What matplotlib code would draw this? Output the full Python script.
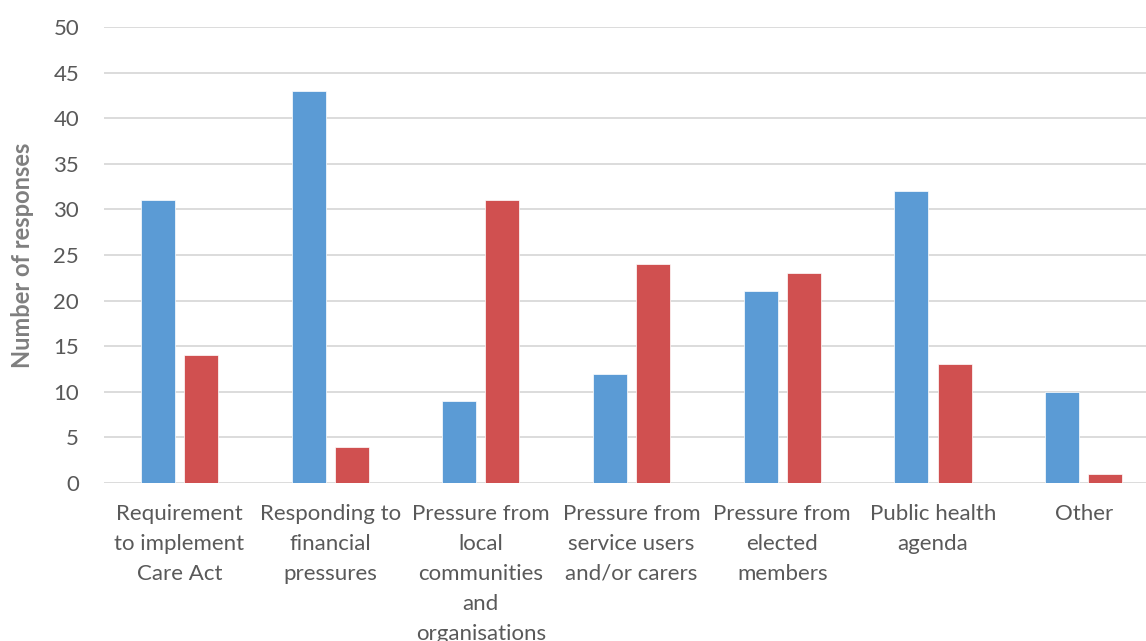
import matplotlib.pyplot as plt
import numpy as np

# ── Survey data ────────────────────────────────────────────────────────
categories = [
    "Requirement\nto implement\nCare Act",
    "Responding to\nfinancial\npressures",
    "Pressure from\nlocal\ncommunities\nand\norganisations",
    "Pressure from\nservice users\nand/or carers",
    "Pressure from\nelected\nmembers",
    "Public health\nagenda",
    "Other",
]
series_blue = [31, 43, 9, 12, 21, 32, 10]
series_red = [14, 4, 31, 24, 23, 13, 1]

blue = "#5B9BD5"
red = "#D05050"
text_grey = "#595959"

plt.rcParams["font.family"] = ["Lato", "DejaVu Sans"]

fig = plt.figure(figsize=(11.46, 6.41), dpi=100)
ax = fig.add_axes([0.0908, 0.2465, 0.9206, 0.7114])

x = np.arange(len(categories))
width = 0.226
offset = 0.143

ax.bar(x - offset, series_blue, width, color=blue, edgecolor="white",
       linewidth=0.5, zorder=3)
ax.bar(x + offset, series_red, width, color=red, edgecolor="white",
       linewidth=0.5, zorder=3)

ax.set_xlim(-0.5, len(categories) - 0.5)
ax.set_ylim(0, 50)
ax.set_yticks(range(0, 51, 5))
ax.set_xticks(x)
ax.set_xticklabels(categories, linespacing=1.62)

ax.grid(axis="y", color="#D9D9D9", linewidth=1.3, zorder=0)
ax.set_axisbelow(True)
for s in ax.spines.values():
    s.set_visible(False)

ax.tick_params(axis="both", length=0, labelsize=16, colors=text_grey)
ax.tick_params(axis="x", pad=15)
ax.tick_params(axis="y", pad=18)

ax.set_ylabel("Number of responses", fontsize=17, fontweight="bold",
              color="#7F7F7F", labelpad=14)

plt.savefig("out.png", dpi=100)
